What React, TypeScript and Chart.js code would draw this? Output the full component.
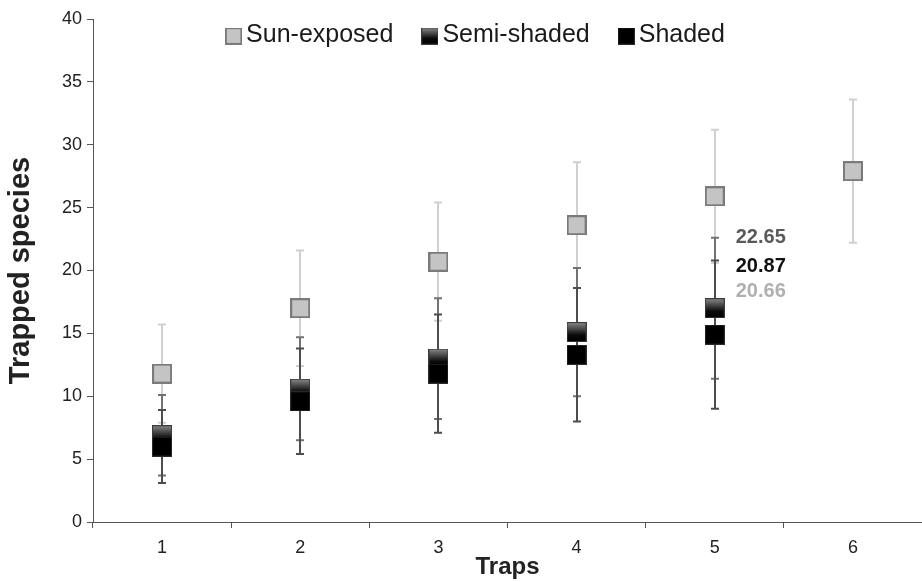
import React, { useEffect, useRef } from "react";
import { Chart, registerables } from "chart.js";

Chart.register(...registerables);

// ---- data ----
const traps = ["1", "2", "3", "4", "5", "6"];
const sunMean = [11.8, 17.0, 20.7, 23.6, 25.9, 27.9];
const sunSD = [3.9, 4.6, 4.7, 5.0, 5.3, 5.7];
const semiMean = [6.9, 10.6, 13.0, 15.1, 17.0, null];
const semiSD = [3.2, 4.1, 4.8, 5.1, 5.6, null];
const shadedMean = [6.0, 9.6, 11.8, 13.3, 14.9, null];
const shadedSD = [2.9, 4.2, 4.7, 5.3, 5.9, null];
const yMin = 0;
const yMax = 40;
const yStep = 5;
const seriesNames = ["Sun-exposed", "Semi-shaded", "Shaded"];
const noteTexts = ["22.65", "20.87", "20.66"];
const noteAnchors = [22.6, 20.3, 18.3];
const noteTrapIndex = 4;

const FONT = "'Liberation Sans', Arial, sans-serif";

function makeMarker(kind: "sun" | "semi" | "shaded"): HTMLCanvasElement {
  const s = 20;
  const c = document.createElement("canvas");
  c.width = s;
  c.height = s;
  const g = c.getContext("2d")!;
  if (kind === "sun") {
    g.fillStyle = "#c4c4c4";
    g.fillRect(0, 0, s, s);
    g.strokeStyle = "#7a7a7a";
    g.lineWidth = 2;
    g.strokeRect(1, 1, s - 2, s - 2);
  } else if (kind === "semi") {
    const gr = g.createLinearGradient(0, 0, 0, s);
    gr.addColorStop(0, "#8c8c8c");
    gr.addColorStop(0.65, "#0a0a0a");
    gr.addColorStop(1, "#000000");
    g.fillStyle = gr;
    g.fillRect(0, 0, s, s);
    g.strokeStyle = "#3c3c3c";
    g.lineWidth = 1;
    g.strokeRect(0.5, 0.5, s - 1, s - 1);
  } else {
    g.fillStyle = "#000000";
    g.fillRect(0, 0, s, s);
    g.strokeStyle = "#2a2a2a";
    g.lineWidth = 1;
    g.strokeRect(0.5, 0.5, s - 1, s - 1);
  }
  return c;
}

export default function App() {
  const ref = useRef<HTMLCanvasElement | null>(null);

  useEffect(() => {
    if (!ref.current) return;
    const markers = [makeMarker("sun"), makeMarker("semi"), makeMarker("shaded")];
    const means = [sunMean, semiMean, shadedMean];
    const sds = [sunSD, semiSD, shadedSD];
    const barColors = ["#d0d0d0", "#737373", "#4d4d4d"];

    const errorBars = {
      id: "errorBars",
      beforeDatasetsDraw(chart: any) {
        const { ctx } = chart;
        const xs = chart.scales.x;
        const ys = chart.scales.y;
        ctx.save();
        for (let k = 0; k < 3; k++) {
          ctx.strokeStyle = barColors[k];
          ctx.lineWidth = 2;
          for (let i = 0; i < traps.length; i++) {
            const m = means[k][i];
            const sd = sds[k][i];
            if (m == null || sd == null) continue;
            const x = Math.round(xs.getPixelForValue(i));
            const yTop = ys.getPixelForValue(m + sd);
            const yBot = ys.getPixelForValue(m - sd);
            ctx.beginPath();
            ctx.moveTo(x, yTop);
            ctx.lineTo(x, yBot);
            ctx.moveTo(x - 4, yTop);
            ctx.lineTo(x + 4, yTop);
            ctx.moveTo(x - 4, yBot);
            ctx.lineTo(x + 4, yBot);
            ctx.stroke();
          }
        }
        ctx.restore();
      },
    };

    const extras = {
      id: "extras",
      afterDraw(chart: any) {
        const { ctx } = chart;
        const xs = chart.scales.x;
        const ys = chart.scales.y;
        ctx.save();
        // legend
        ctx.font = `25px ${FONT}`;
        ctx.textBaseline = "middle";
        ctx.textAlign = "left";
        const box = 17;
        const gap = 4;
        const spacing = 28;
        let total = 0;
        const widths = seriesNames.map((n) => ctx.measureText(n).width);
        widths.forEach((w, i) => {
          total += box + gap + w + (i < widths.length - 1 ? spacing : 0);
        });
        let x = 475 - total / 2;
        const yc = 35;
        seriesNames.forEach((n, i) => {
          ctx.drawImage(markers[i], x, yc - box / 2 + 1, box, box);
          ctx.fillStyle = "#1a1a1a";
          ctx.fillText(n, x + box + gap, yc);
          x += box + gap + widths[i] + spacing;
        });
        // notes
        ctx.font = `bold 20px ${FONT}`;
        const noteColors = ["#5a5a5a", "#111111", "#b0b0b0"];
        const nx = xs.getPixelForValue(noteTrapIndex) + 21;
        noteTexts.forEach((t, i) => {
          ctx.fillStyle = noteColors[i];
          ctx.fillText(t, nx, ys.getPixelForValue(noteAnchors[i]));
        });
        ctx.restore();
      },
    };

    const chart = new Chart(ref.current, {
      type: "line",
      data: {
        labels: traps,
        datasets: [
          { label: seriesNames[0], data: sunMean, showLine: false, pointStyle: markers[0], order: 3 },
          { label: seriesNames[1], data: semiMean, showLine: false, pointStyle: markers[1], order: 2 },
          { label: seriesNames[2], data: shadedMean, showLine: false, pointStyle: markers[2], order: 1 },
        ] as any,
      },
      options: {
        responsive: false,
        animation: false,
        layout: { autoPadding: false, padding: { top: 19, right: 0, left: 0, bottom: 0 } },
        plugins: {
          legend: { display: false },
          tooltip: { enabled: false },
        },
        scales: {
          x: {
            type: "category",
            offset: true,
            grid: {
              offset: true,
              drawOnChartArea: false,
              drawTicks: true,
              tickLength: 6,
              color: "#555555",
            },
            border: { color: "#555555", width: 1 },
            ticks: {
              font: { family: FONT, size: 18 },
              color: "#222222",
              padding: 9,
            },
            title: {
              display: true,
              text: "Traps",
              font: { family: FONT, size: 24, weight: "bold" },
              color: "#222222",
              padding: 0,
            },
            afterFit(scale: any) {
              scale.height = 60;
            },
          },
          y: {
            min: yMin,
            max: yMax,
            ticks: {
              stepSize: yStep,
              font: { family: FONT, size: 18 },
              color: "#222222",
              padding: 5,
            },
            grid: {
              drawOnChartArea: false,
              drawTicks: true,
              tickLength: 6,
              color: "#555555",
            },
            border: { color: "#555555", width: 1 },
            title: {
              display: true,
              text: "Trapped species",
              font: { family: FONT, size: 29, weight: "bold" },
              color: "#222222",
              padding: { top: 4, bottom: 0 },
            },
            afterFit(scale: any) {
              scale.width = 93;
            },
          },
        },
      } as any,
      plugins: [errorBars, extras],
    });
    return () => chart.destroy();
  }, []);

  return (
    <div style={{ position: "fixed", left: 0, top: 0, width: 922, height: 582, background: "#ffffff" }}>
      <canvas ref={ref} width={922} height={582} />
    </div>
  );
}
